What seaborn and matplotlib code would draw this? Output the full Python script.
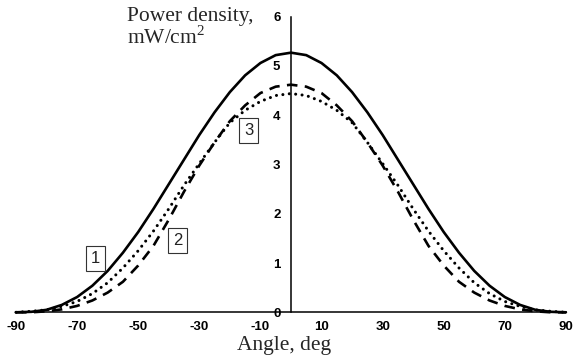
import matplotlib
matplotlib.use("Agg")
import matplotlib.pyplot as plt
import seaborn as sns

# angle grid and read-off power densities (mW/cm2)
angle = [-90, -85, -80, -75, -70, -65, -60, -55, -50, -45, -40, -35, -30, -25, -20, -15, -10, -5,
         0, 5, 10, 15, 20, 25, 30, 35, 40, 45, 50, 55, 60, 65, 70, 75, 80, 85, 90]

half1 = [5.27, 5.22, 5.06, 4.81, 4.47, 4.06, 3.60, 3.10, 2.60, 2.10, 1.63, 1.21, 0.84, 0.54, 0.31, 0.15, 0.05, 0.01, 0.0]
half2 = [4.62, 4.58, 4.45, 4.20, 3.88, 3.45, 2.98, 2.45, 1.88, 1.35, 0.95, 0.62, 0.40, 0.24, 0.13, 0.06, 0.02, 0.0, 0.0]
half3 = [4.44, 4.40, 4.28, 4.10, 3.85, 3.45, 3.02, 2.58, 2.10, 1.65, 1.25, 0.90, 0.60, 0.38, 0.22, 0.12, 0.05, 0.02, 0.0]

curve1 = half1[:0:-1] + half1
curve2 = half2[:0:-1] + half2
curve3 = half3[:0:-1] + half3

xticks = list(range(-90, 91, 20))
yticks = list(range(0, 7))

sns.set_theme(style="white")
plt.rcParams["mathtext.fontset"] = "custom"
plt.rcParams["mathtext.rm"] = "Liberation Serif"
plt.rcParams["axes.unicode_minus"] = False

fig = plt.figure(figsize=(5.74, 3.6), dpi=100)
ax = fig.add_axes([0.0279, 0.1325, 0.958, 0.8211])

sns.lineplot(x=angle, y=curve1, ax=ax, color="black", lw=1.9, clip_on=False)
sns.lineplot(x=angle, y=curve2, ax=ax, color="black", lw=1.9,
             linestyle=(0, (4, 2.8)), dash_capstyle="butt", clip_on=False)
sns.lineplot(x=angle, y=curve3, ax=ax, color="black", lw=2.2,
             linestyle=(0, (0.01, 2.1)), dash_capstyle="round", clip_on=False)

ax.set_xlim(-90, 90)
ax.set_ylim(0, 6)
ax.set_xticks(xticks)
ax.set_yticks(yticks)

for side in ["top", "right"]:
    ax.spines[side].set_visible(False)
ax.spines["left"].set_position(("data", 0))
for side in ["left", "bottom"]:
    ax.spines[side].set_linewidth(1.1)
    ax.spines[side].set_color("black")

ax.tick_params(axis="x", direction="out", length=3.0, width=1.1, pad=3.5, colors="black")
ax.tick_params(axis="y", direction="out", length=3.6, width=1.1, pad=4.0, colors="black")
for lab in ax.get_xticklabels() + ax.get_yticklabels():
    lab.set_fontfamily("Liberation Sans")
    lab.set_fontweight("bold")
    lab.set_fontsize(9.5)

box = dict(boxstyle="square,pad=0.3", fc="white", ec="#333333", lw=0.8)
for txt, x, y in [("1", -64.1, 1.09), ("2", -37.1, 1.46), ("3", -13.8, 3.69)]:
    ax.text(x, y, txt, ha="center", va="center", fontsize=12,
            family="Liberation Sans", color="#222222", bbox=box)

fig.text(127 / 574, 1 - 7 / 360, "Power density,\nmW/cm$^{\\mathrm{2}}$", ha="left", va="top",
         family="Liberation Serif", fontsize=15.5, linespacing=1.0)
fig.text(284 / 574, 1 - 350 / 360, "Angle, deg", ha="center", va="baseline",
         family="Liberation Serif", fontsize=15.5)

fig.savefig("out.png", dpi=100)
